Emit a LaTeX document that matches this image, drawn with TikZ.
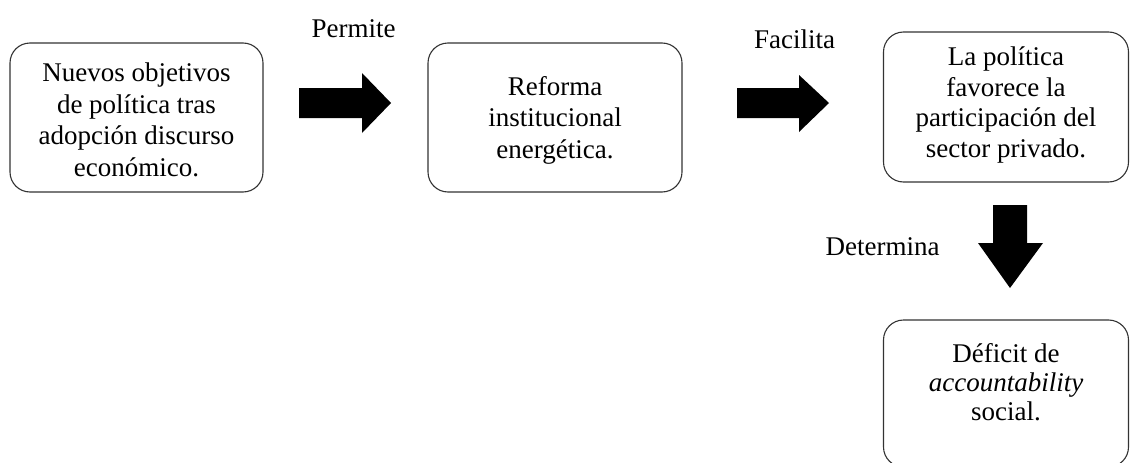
\documentclass[tikz,border=0pt]{standalone}
\usepackage{fontspec}
\setmainfont{Liberation Serif}
\begin{document}
\begin{tikzpicture}[x=1pt,y=-1pt,
  box/.style={draw=black!80, line width=1.1pt, rounded corners=20pt, inner sep=0pt},
  txt/.style={align=center, font=\fontsize{27}{31.5}\selectfont, inner sep=0pt},
  lbl/.style={font=\fontsize{27}{31.5}\selectfont, inner sep=0pt, anchor=base},
  blk/.style={fill=black}]
\useasboundingbox (0,0) rectangle (1130,463);
\begin{scope}
\clip (0,0) rectangle (1130,463);
\node[box, minimum width=253pt, minimum height=149pt] (b1) at (136.5,117.5) {};
\node[txt] (t1) at (136.5,120) {Nuevos objetivos\\de política tras\\adopción discurso\\económico.};
\node[box, minimum width=254pt, minimum height=149pt] (b2) at (555,117.5) {};
\node[txt] (t2) at (555,120) {Reforma\\institucional\\energética.};
\node[box, minimum width=245pt, minimum height=150pt] (b3) at (1006,107) {};
\node[txt, font=\fontsize{27}{30.7}\selectfont] (t3) at (1006,105) {La política\\favorece la\\participación del\\sector privado.};
\node[box, minimum width=245pt, minimum height=147pt] (b4) at (1006,393.5) {};
\node[txt, font=\fontsize{27}{29}\selectfont] (t4) at (1006,382) {Déficit de\\\textit{accountability}\\social.};
\end{scope}
% block arrows
\fill[blk] (299,88) -- (362,88) -- (362,73) -- (391,103) -- (362,133) -- (362,118) -- (299,118) -- cycle;
\fill[blk] (737,88) -- (799,88) -- (799,75) -- (829,103) -- (799,132) -- (799,118) -- (737,118) -- cycle;
\fill[blk] (993,205) -- (1027,205) -- (1027,243) -- (1043,243) -- (1010,288) -- (978,243) -- (993,243) -- cycle;
\node[lbl] (l1) at (353.5,37) {Permite};
\node[lbl] (l2) at (794.5,48) {Facilita};
\node[lbl] (l3) at (882.5,255) {Determina};
\end{tikzpicture}
\end{document}
